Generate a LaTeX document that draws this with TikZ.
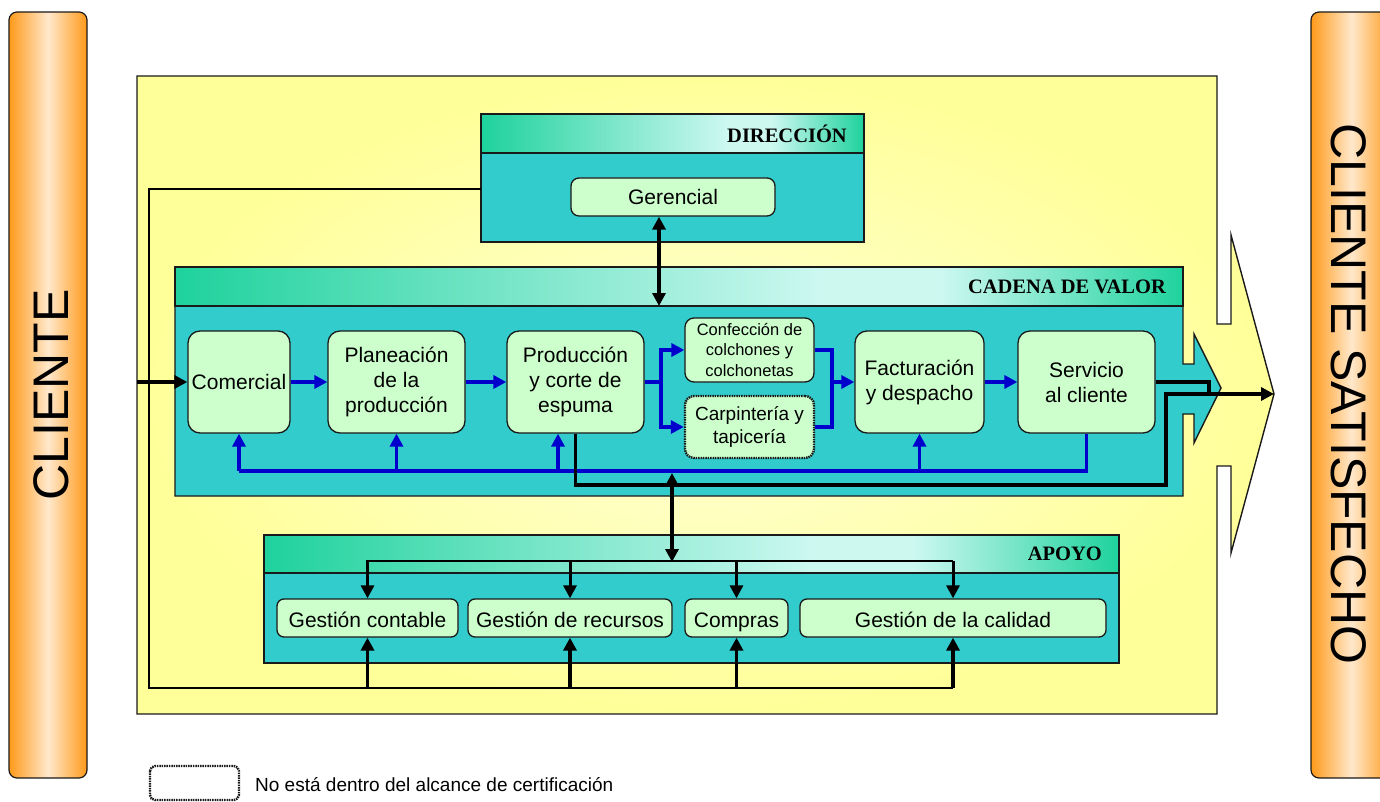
\documentclass[tikz,border=0pt]{standalone}
\usepackage{fontspec}
\setmainfont{Liberation Sans}
\newfontfamily\hdrserif{Liberation Serif}
\usetikzlibrary{arrows.meta,calc}

\definecolor{bodyteal}{HTML}{33CCCC}
\definecolor{nodegreen}{HTML}{CCFFCC}
\definecolor{flowblue}{HTML}{0000CC}
\definecolor{hdrdark}{HTML}{1ED29C}
\definecolor{hdrlight}{HTML}{CCF8F0}
\definecolor{yelldark}{HTML}{FFFF99}
\definecolor{yelllight}{HTML}{FFFFD6}
\definecolor{orangedark}{HTML}{FF9A1A}
\definecolor{orangelight}{HTML}{FFE8CC}
\definecolor{edge}{HTML}{1A1A1A}

\pgfdeclarehorizontalshading{hdrshade}{100bp}{color(0bp)=(hdrdark); color(25bp)=(hdrdark); color(57bp)=(hdrlight); color(63bp)=(hdrlight); color(75bp)=(hdrdark); color(100bp)=(hdrdark)}

\tikzset{
  border/.style={draw=edge, line width=1.4pt},
  header/.style={border, shading=hdrshade},
  body/.style={border, fill=bodyteal},
  hdrtext/.style={anchor=east, inner sep=0pt, font=\hdrserif\bfseries\fontsize{20.5}{24}\selectfont},
  proc/.style={draw=edge, line width=1.3pt, fill=nodegreen, rounded corners=12pt,
    align=center, inner sep=0pt, font=\fontsize{21}{25}\selectfont},
  apo/.style={proc, rounded corners=7pt, minimum height=38pt, text height=18pt, text depth=0pt},
  outofscope/.style={dash pattern=on 1.5pt off 0.9pt, line width=2.4pt},
  clientbox/.style={draw=edge, line width=1.2pt, rounded corners=8pt,
    left color=orangedark, right color=orangedark, middle color=orangelight},
  clienttext/.style={inner sep=0pt, font=\fontsize{50}{50}\selectfont},
  bline/.style={draw=flowblue, line width=3.6pt},
  barr/.style={bline, -{Triangle[length=13pt,width=13pt]}},
  kthin/.style={draw=black, line width=1.8pt},
  kline/.style={draw=black, line width=3.6pt},
  karr/.style={kline, -{Triangle[length=13pt,width=13pt]}},
  kdarr/.style={kline, {Triangle[length=13pt,width=13pt]}-{Triangle[length=13pt,width=13pt]}},
  kdown/.style={draw=black, line width=3pt, -{Triangle[length=13pt,width=13pt]}},
}

\begin{document}
\begin{tikzpicture}[x=1pt, y=-1pt]
\useasboundingbox (0,0) rectangle (1380,802);

% customer side panels
\draw[clientbox] (9,12) rectangle (87,778);
\node[clienttext, rotate=90] (cliente) at (51,395) {CLIENTE};
\draw[clientbox] (1311,12) rectangle (1392,778);
\node[clienttext, rotate=-90] (satisfecho) at (1349,394) {CLIENTE SATISFECHO};

% organisation block with outgoing arrow
\draw[border, inner color=yelllight, outer color=yelldark]
  (137,76) -- (1217,76) -- (1217,324) -- (1231,324) -- (1231,235) -- (1274,394)
  -- (1231,553) -- (1231,466) -- (1217,466) -- (1217,714) -- (137,714) -- cycle;

% management block
\draw[body] (481,153) rectangle (864,242);
\draw[header] (481,114) rectangle (864,153);
\node[hdrtext] (dirtitle) at (847,134) {DIRECCIÓN};
\node[proc, rounded corners=8pt, minimum width=204pt, minimum height=38pt] (gerencial) at (673,197) {Gerencial};

% value chain block
\draw[body] (175,306) -- (1183,306) -- (1183,364) -- (1194,364) -- (1194,334) -- (1221,388)
  -- (1194,443) -- (1194,414) -- (1183,414) -- (1183,496) -- (175,496) -- cycle;
\draw[header] (175,267) rectangle (1183,306);
\node[hdrtext] (cvtitle) at (1166,287) {CADENA DE VALOR};

\node[proc, minimum width=102pt, minimum height=102pt] (com) at (239,382) {Comercial};
\node[proc, minimum width=137pt, minimum height=102pt] (plan) at (396.5,382) {Planeación\\de la\\producción};
\node[proc, minimum width=137pt, minimum height=102pt] (prod) at (575.5,382) {Producción\\y corte de\\espuma};
\node[proc, rounded corners=9pt, minimum width=129pt, minimum height=64pt, font=\fontsize{16.5}{20.5}\selectfont] (conf) at (749.5,350) {Confección de\\colchones y\\colchonetas};
\node[proc, outofscope, rounded corners=9pt, minimum width=129pt, minimum height=62pt, font=\fontsize{19}{23}\selectfont] (carp) at (749.5,427) {Carpintería y\\tapicería};
\node[proc, minimum width=129pt, minimum height=102pt] (fact) at (919.5,382) {Facturación\\y despacho};
\node[proc, minimum width=137pt, minimum height=102pt] (serv) at (1086.5,382) {Servicio\\al cliente};

% support block
\draw[body] (264,573) rectangle (1119,663);
\draw[header] (264,535) rectangle (1119,573);
\node[hdrtext] (aptitle) at (1102,554) {APOYO};

\node[apo, minimum width=181pt] (gc) at (367.5,618) {Gestión contable};
\node[apo, minimum width=204pt] (gr) at (570,618) {Gestión de recursos};
\node[apo, minimum width=103pt] (comp) at (736.5,618) {Compras};
\node[apo, minimum width=306pt] (gcal) at (953,618) {Gestión de la calidad};

% main flow
\coordinate (entry) at (137,382);
\draw[karr] (entry) -- (com.west);
\draw[barr] (com.east) -- (plan.west);
\draw[barr] (plan.east) -- (prod.west);
\coordinate (split) at (661,382);
\draw[bline] (prod.east) -- (split);
\draw[barr] (split) |- (conf.west);
\draw[barr] (split) |- (carp.west);
\coordinate (join) at (832,382);
\draw[bline] (conf.east) -| (join);
\draw[bline] (carp.east) -| (join);
\draw[barr] (join) -- (fact.west);
\draw[barr] (fact.east) -- (serv.west);

% feedback loop
\coordinate (fb) at (1086.5,471);
\draw[bline] (serv.south) -- (fb) -- (fb -| com.south);
\draw[barr] (fb -| com.south) -- (com.south);
\draw[barr] (fb -| plan.south) -- (plan.south);
\draw[barr] (fb -| 558,0) -- (prod.south -| 558,0);
\draw[barr] (fb -| fact.south) -- (fact.south);

% output to the satisfied customer
\coordinate (exit) at (1274,394);
\coordinate (prodout) at (1166,485);
\draw[karr] (prod.south) |- (prodout) -- (prodout |- exit) -- (exit);
\draw[kline] (serv.east) -- (1209,382) -- (1209,394);

% management to value chain
\coordinate (cvtop) at (659,306);
\draw[kdarr] (cvtop) -- (cvtop |- gerencial.south);

% value chain to support
\coordinate (cvlow) at (672,473);
\coordinate (aptop) at (672,562);
\draw[kdarr] (cvlow) -- (aptop);
\coordinate (dist) at (366,561);
\draw[kthin] (dist) -- (dist -| gcal.north);
\draw[kdown] (dist -| gc.north) -- (gc.north);
\draw[kdown] (dist -| gr.north) -- (gr.north);
\draw[kdown] (dist -| comp.north) -- (comp.north);
\draw[kdown] (dist -| gcal.north) -- (gcal.north);

% management to support (outer loop)
\coordinate (dirleft) at (481,189);
\coordinate (loopbl) at (149,688);
\draw[kthin] (dirleft) -| (loopbl) -- (loopbl -| gcal.south);
\draw[karr] (loopbl -| gc.south) -- (gc.south);
\draw[karr] (loopbl -| gr.south) -- (gr.south);
\draw[karr] (loopbl -| comp.south) -- (comp.south);
\draw[karr] (loopbl -| gcal.south) -- (gcal.south);

% legend
\draw[outofscope, draw=edge, rounded corners=5pt] (150,766) rectangle (239,800);
\node[anchor=west, inner sep=0pt, font=\fontsize{19}{22}\selectfont] (legend) at (255,785) {No está dentro del alcance de certificación};
\end{tikzpicture}
\end{document}
